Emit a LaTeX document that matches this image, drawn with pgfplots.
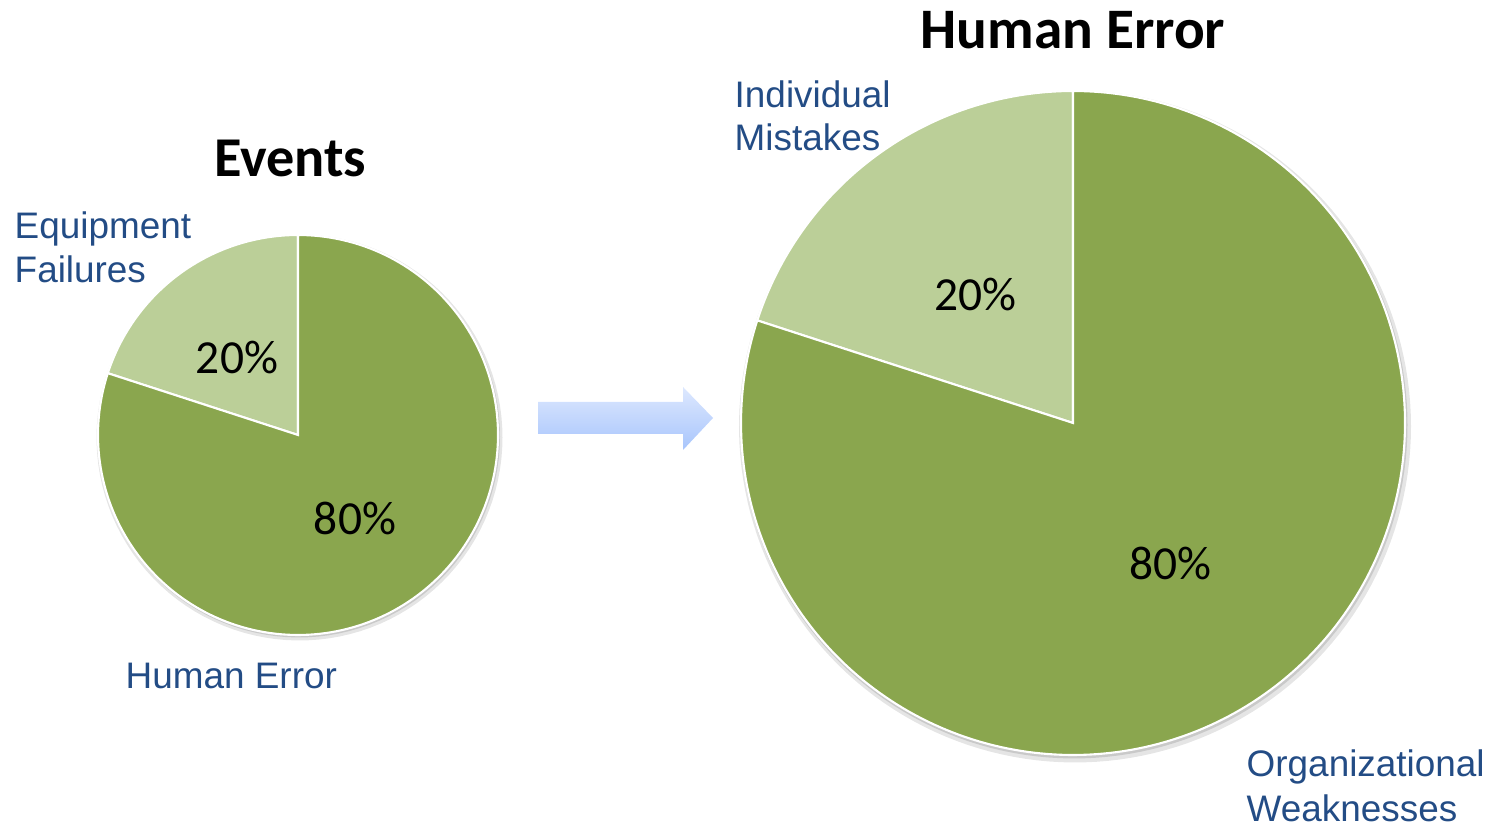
\documentclass[border=0pt]{standalone}
\usepackage{pgfplots}
\pgfplotsset{compat=1.18}
\usepackage{fontspec}
\setmainfont{Carlito}
\newfontfamily\arial{Liberation Sans}
\definecolor{darkg}{HTML}{8AA64E}
\definecolor{lightg}{HTML}{BBCF98}
\definecolor{lblue}{HTML}{234C85}
\definecolor{arrtop}{HTML}{DDE8FE}
\definecolor{arrbot}{HTML}{A8C5FC}
% pie values (percent)
\def\evHuman{80}\def\evEquip{20}
\def\heOrg{80}\def\heInd{20}
\begin{document}
\begin{tikzpicture}
\begin{axis}[
  scale only axis, width=14.93cm, height=8.26cm,
  xmin=0, xmax=1493, ymin=0, ymax=826,
  hide axis, clip=false]
% ---------- left pie: Events ----------
\pgfmathsetmacro{\aS}{90}
\pgfmathsetmacro{\aM}{90+3.6*\evEquip}
\pgfmathsetmacro{\aE}{450}
% shadow
\addplot[fill=black, opacity=0.10, draw=none, domain=0:360, samples=120, variable=\t]
  ({299.5+203*cos(\t)},{388.5+203*sin(\t)}) -- cycle;
\addplot[fill=black, opacity=0.12, draw=none, domain=0:360, samples=120, variable=\t]
  ({299+201*cos(\t)},{389.5+201*sin(\t)}) -- cycle;
\addplot[fill=lightg, draw=white, line width=0.6pt, domain=\aS:\aM, samples=60, variable=\t]
  ({298+200*cos(\t)},{391+200*sin(\t)}) -- (298,391) -- cycle;
\addplot[fill=darkg, draw=white, line width=0.6pt, domain=\aM:\aE, samples=180, variable=\t]
  ({298+200*cos(\t)},{391+200*sin(\t)}) -- (298,391) -- cycle;
% ---------- right pie: Human Error ----------
\addplot[fill=black, opacity=0.10, draw=none, domain=0:360, samples=180, variable=\t]
  ({1075+336*cos(\t)},{399.5+336*sin(\t)}) -- cycle;
\addplot[fill=black, opacity=0.12, draw=none, domain=0:360, samples=180, variable=\t]
  ({1074+333.5*cos(\t)},{401+333.5*sin(\t)}) -- cycle;
\pgfmathsetmacro{\bM}{90+3.6*\heInd}
\addplot[fill=lightg, draw=white, line width=0.6pt, domain=90:\bM, samples=80, variable=\t]
  ({1073+332*cos(\t)},{403+332*sin(\t)}) -- (1073,403) -- cycle;
\addplot[fill=darkg, draw=white, line width=0.6pt, domain=\bM:450, samples=240, variable=\t]
  ({1073+332*cos(\t)},{403+332*sin(\t)}) -- (1073,403) -- cycle;
% ---------- arrow ----------
\shade[top color=arrtop, bottom color=arrbot]
  (538,424) -- (683,424) -- (683,439) -- (713,408) -- (683,376) -- (683,392) -- (538,392) -- cycle;
% ---------- texts ----------
\node[anchor=base, font=\fontsize{16}{19}\selectfont\bfseries] at (290,649) {Events};
\node[anchor=base, font=\fontsize{16.3}{19}\selectfont\bfseries] at (1073,777) {Human Error};
\node[anchor=base, font=\fontsize{13.5}{16}\selectfont] at (237,452) {\evEquip\%};
\node[anchor=base, font=\fontsize{13.5}{16}\selectfont] at (355,291) {\evHuman\%};
\node[anchor=base, font=\fontsize{13.5}{16}\selectfont] at (975,515) {\heInd\%};
\node[anchor=base, font=\fontsize{13.5}{16}\selectfont] at (1170,246) {\heOrg\%};
\begin{scope}[every node/.style={anchor=base west, inner sep=0pt, text=lblue, font=\arial\fontsize{10.5}{12}\selectfont}]
\node at (14,587) {Equipment};
\node at (14,543) {Failures};
\node at (125,137) {Human Error};
\node at (734,718) {Individual};
\node at (734,675) {Mistakes};
\node at (1246,49) {Organizational};
\node at (1246,5) {Weaknesses};
\end{scope}
\end{axis}
\pgfresetboundingbox
\path (0,0) rectangle (14.93cm,8.26cm);
\end{tikzpicture}
\end{document}
